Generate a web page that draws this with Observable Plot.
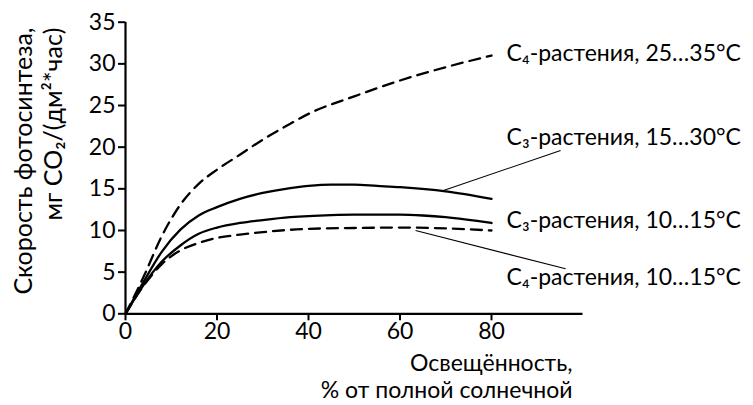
<!DOCTYPE html>
<html>
<head>
<meta charset="utf-8">
<script src="https://cdn.jsdelivr.net/npm/d3@7"></script>
<script src="https://cdn.jsdelivr.net/npm/@observablehq/plot@0.6"></script>
<style>
  html, body { margin: 0; padding: 0; background: #fff; }
  #chart svg { display: block; font-family: Lato, "Open Sans", sans-serif; }
</style>
</head>
<body>
<div id="chart"></div>
<script>
// Light level, % of full sunlight, and photosynthesis rate, mg CO2/(dm2*h)
const c4WarmX = [0, 2, 4, 8, 12, 16, 20, 25, 30, 35, 40, 50, 60, 70, 80];
const c4WarmY = [0, 2.2, 4.5, 9.4, 13.1, 15.6, 17.3, 19.1, 20.9, 22.5, 24.0, 26.1, 28.0, 29.6, 31.0];

const c3WarmX = [0, 4, 8, 12, 16, 20, 25, 30, 35, 40, 45, 50, 55, 60, 70, 80];
const c3WarmY = [0, 3.9, 7.5, 10.1, 11.8, 12.8, 13.8, 14.5, 15.0, 15.35, 15.5, 15.5, 15.35, 15.2, 14.7, 13.8];

const c3CoolX = [0, 4, 8, 12, 16, 20, 25, 30, 36, 45, 50, 60, 65, 70, 80];
const c3CoolY = [0, 3.5, 6.3, 8.2, 9.6, 10.35, 10.9, 11.25, 11.6, 11.85, 11.9, 11.9, 11.8, 11.6, 10.9];

const c4CoolX = [0, 4, 8, 12, 16, 20, 25, 30, 40, 50, 60, 70, 80];
const c4CoolY = [0, 3.4, 6.0, 7.6, 8.5, 9.1, 9.5, 9.8, 10.2, 10.3, 10.35, 10.25, 10.0];

const xTicks = [0, 20, 40, 60, 80];
const yTicks = [0, 5, 10, 15, 20, 25, 30, 35];

// Curve captions and where they sit (data units)
const captionText = [
  "C\u2084-растения, 25…35°C",
  "C\u2083-растения, 15…30°C",
  "C\u2083-растения, 10…15°C",
  "C\u2084-растения, 10…15°C"
];
const captionX = [83.3, 83.3, 83.3, 83.3];
const captionY = [31.25, 21.2, 11.2, 4.4];

// Leader lines from a curve to its caption (data units)
const leaderFrom = [[69.5, 14.8], [63.4, 10.0]];
const leaderTo = [[95.1, 19.6], [96.2, 5.4]];

const xTitle = "Освещённость,\n% от полной солнечной";
const yTitle = "Скорость фотосинтеза,\nмг CO\u2082/(дм\u00B2*час)";

const series = [
  {x: c4WarmX, y: c4WarmY, dashed: true},
  {x: c3WarmX, y: c3WarmY, dashed: false},
  {x: c3CoolX, y: c3CoolY, dashed: false},
  {x: c4CoolX, y: c4CoolY, dashed: true}
];

const toRows = s => s.x.map((x, i) => ({x, y: s.y[i]}));
const captions = captionText.map((t, i) => ({t, x: captionX[i], y: captionY[i]}));
const leaders = leaderFrom.map((f, i) => ({x1: f[0], y1: f[1], x2: leaderTo[i][0], y2: leaderTo[i][1]}));

const FS = 23;      // ticks, captions and x title

const chart = Plot.plot({
  width: 753,
  height: 405,
  marginLeft: 125,
  marginRight: 170.5,
  marginTop: 21.7,
  marginBottom: 91.7,
  style: {fontFamily: "Lato, 'Open Sans', sans-serif", fontSize: FS + "px", color: "#000", background: "#fff", overflow: "visible"},
  x: {domain: [0, 100]},
  y: {domain: [0, 35]},
  marks: [
    Plot.axisX({ticks: xTicks, tickSize: 7, tickPadding: 2, strokeWidth: 2, fontSize: FS, label: null, tickFormat: d => String(d)}),
    Plot.axisY({ticks: yTicks, tickSize: 7, tickPadding: 3, strokeWidth: 2, fontSize: FS, label: null, tickFormat: d => String(d)}),
    Plot.ruleY([0], {strokeWidth: 2.2}),
    Plot.ruleX([0], {y1: 0, y2: 35, strokeWidth: 2.2}),
    ...series.map(s => Plot.line(toRows(s), {
      x: "x", y: "y", curve: "monotone-x",
      stroke: "#000", strokeWidth: 2.3,
      strokeDasharray: s.dashed ? "11,7" : null
    })),
    Plot.link(leaders, {x1: "x1", y1: "y1", x2: "x2", y2: "y2", stroke: "#000", strokeWidth: 1.1}),
    Plot.text(captions, {x: "x", y: "y", text: "t", textAnchor: "start", fontSize: FS, fill: "#000"}),
    Plot.text([xTitle], {frameAnchor: "bottom-right", textAnchor: "end", lineAnchor: "middle", lineHeight: 1.15, dx: -10.5, dy: 62, fontSize: FS, fill: "#000"}),
    Plot.text([yTitle], {frameAnchor: "top-left", rotate: -90, textAnchor: "end", lineAnchor: "middle", lineHeight: 1.2, dx: -88, dy: 5.3, fontSize: 25, fill: "#000"})
  ]
});

document.getElementById("chart").appendChild(chart);
</script>
</body>
</html>
